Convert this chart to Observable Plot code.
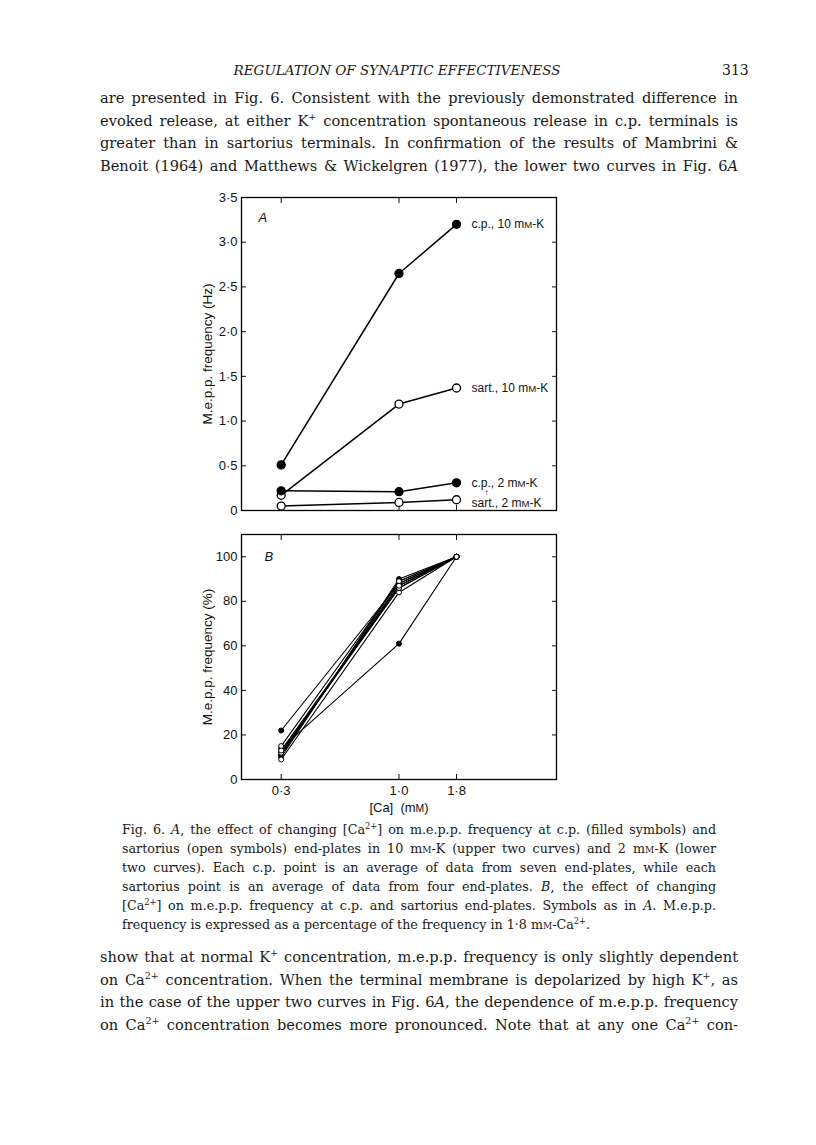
<!DOCTYPE html>
<html>
<head>
<meta charset="utf-8">
<script src="https://cdn.jsdelivr.net/npm/d3@7"></script>
<script src="https://cdn.jsdelivr.net/npm/@observablehq/plot@0.6"></script>
<style>
  html, body { margin: 0; padding: 0; background: #fff; }
  #page { position: relative; width: 816px; height: 1145px; background: #fff; color: #1a1a1a; font-family: "DejaVu Serif", serif; }
  .line { white-space: nowrap; text-align: justify; text-align-last: justify; }
  .para { position: absolute; left: 100px; width: 638px; font-size: 14.6px; line-height: 22.7px; }
  .cap { position: absolute; left: 122px; width: 594px; font-size: 12.7px; line-height: 19px; }
  .sc { font-variant: small-caps; }
  sup { font-size: 0.65em; line-height: 0; }
  .hdr { position: absolute; top: 62px; left: 0; width: 794px; text-align: center; font-style: italic; font-size: 13.5px; }
  .pg { position: absolute; top: 62px; left: 722px; font-size: 14px; }
  .chart { position: absolute; left: 180px; }
  .chart svg { overflow: visible; }
</style>
</head>
<body>
<div id="page">
  <div class="hdr">REGULATION OF SYNAPTIC EFFECTIVENESS</div>
  <div class="pg">313</div>
  <div class="para" style="top:87px">
    <div class="line">are presented in Fig. 6. Consistent with the previously demonstrated difference in</div>
    <div class="line">evoked release, at either K<sup>+</sup> concentration spontaneous release in c.p. terminals is</div>
    <div class="line">greater than in sartorius terminals. In confirmation of the results of Mambrini &amp;</div>
    <div class="line">Benoit (1964) and Matthews &amp; Wickelgren (1977), the lower two curves in Fig. 6<i>A</i></div>
  </div>
  <div id="chartA" class="chart" style="top:185px"></div>
  <div id="chartB" class="chart" style="top:520px"></div>
  <div class="cap" style="top:820px">
    <div class="line">Fig. 6. <i>A</i>, the effect of changing [Ca<sup>2+</sup>] on m.e.p.p. frequency at c.p. (filled symbols) and</div>
    <div class="line">sartorius (open symbols) end-plates in 10 m<span class="sc">m</span>-K (upper two curves) and 2 m<span class="sc">m</span>-K (lower</div>
    <div class="line">two curves). Each c.p. point is an average of data from seven end-plates, while each</div>
    <div class="line">sartorius point is an average of data from four end-plates. <i>B</i>, the effect of changing</div>
    <div class="line">[Ca<sup>2+</sup>] on m.e.p.p. frequency at c.p. and sartorius end-plates. Symbols as in <i>A</i>. M.e.p.p.</div>
    <div class="line" style="text-align-last:left">frequency is expressed as a percentage of the frequency in 1·8 m<span class="sc">m</span>-Ca<sup>2+</sup>.</div>
  </div>
  <div class="para" style="top:946px">
    <div class="line">show that at normal K<sup>+</sup> concentration, m.e.p.p. frequency is only slightly dependent</div>
    <div class="line">on Ca<sup>2+</sup> concentration. When the terminal membrane is depolarized by high K<sup>+</sup>, as</div>
    <div class="line">in the case of the upper two curves in Fig. 6<i>A</i>, the dependence of m.e.p.p. frequency</div>
    <div class="line">on Ca<sup>2+</sup> concentration becomes more pronounced. Note that at any one Ca<sup>2+</sup> con-</div>
  </div>
</div>
<script>
// ---------- data ----------
const caLevels = [0.3, 1.0, 1.8];          // [Ca] (mM)
const xTickLabels = ["0·3", "1·0", "1·8"];

// Panel A: m.e.p.p. frequency (Hz)
const cp10 = [0.51, 2.65, 3.20];
const sart10 = [0.17, 1.19, 1.37];
const cp2 = [0.22, 0.21, 0.31];
const sart2 = [0.05, 0.09, 0.12];
const seriesNamesA = ["c.p., 10 mM-K", "sart., 10 mM-K", "c.p., 2 mM-K", "sart., 2 mM-K"];
const seriesFilledA = [true, false, true, false];
const yTicksA = [0, 0.5, 1.0, 1.5, 2.0, 2.5, 3.0, 3.5];

// Panel B: m.e.p.p. frequency (% of 1.8 mM-Ca)
const cpB1 = [22, 88, 100];
const cpB2 = [14, 61, 100];
const cpB3 = [10, 90, 100];
const cpB4 = [11, 89, 100];
const cpB5 = [12, 87, 100];
const cpB6 = [13, 86, 100];
const cpB7 = [11, 88, 100];
const sartB1 = [9, 84, 100];
const sartB2 = [12, 86, 100];
const sartB3 = [15, 89, 100];
const sartB4 = [13, 87, 100];
const yTicksB = [0, 20, 40, 60, 80, 100];

// ---------- build tables ----------
const valuesA = [cp10, sart10, cp2, sart2];
const rowsA = valuesA.flatMap((vals, i) => vals.map((v, j) => ({series: seriesNamesA[i], ca: caLevels[j], v, filled: seriesFilledA[i]})));
const labelsA = valuesA.map((vals, i) => ({label: seriesNamesA[i], ca: caLevels[2], v: vals[2], low: i === 3}));

const cpB = [cpB1, cpB2, cpB3, cpB4, cpB5, cpB6, cpB7];
const sartB = [sartB1, sartB2, sartB3, sartB4];
const rowsB = [
  ...cpB.flatMap((vals, i) => vals.map((v, j) => ({series: "cp" + i, ca: caLevels[j], v, filled: true}))),
  ...sartB.flatMap((vals, i) => vals.map((v, j) => ({series: "sart" + i, ca: caLevels[j], v, filled: false})))
];

const font = "Liberation Sans, Arial, Helvetica, sans-serif";
const fmtA = d => d === 0 ? "0" : d.toFixed(1).replace(".", "·");
const fmtX = d => xTickLabels[caLevels.indexOf(d)];
const blank = () => "";

function frameAxes(xt, yt) {
  return [
    Plot.axisY(yt, {anchor: "right", tickSize: -5, tickFormat: blank, label: null}),
    Plot.axisY(yt, {anchor: "left", tickSize: -5, tickFormat: blank, label: null}),
    Plot.axisX(xt, {anchor: "top", tickSize: -5, tickFormat: blank, label: null}),
    Plot.axisX(xt, {anchor: "bottom", tickSize: -5, tickFormat: blank, label: null}),
    Plot.frame({stroke: "black", strokeWidth: 1.3})
  ];
}

function smallCaps(svg) {
  svg.querySelectorAll("text").forEach(t => {
    if (t.children.length === 0 && t.textContent.includes("mM")) {
      t.innerHTML = t.textContent.replace("mM", 'm<tspan font-size="0.8em">M</tspan>');
    }
  });
  return svg;
}

const chartA = Plot.plot({
  width: 420, height: 340,
  marginLeft: 61, marginRight: 44, marginTop: 12, marginBottom: 15,
  style: {fontFamily: font, fontSize: "13px", color: "#111", background: "transparent", overflow: "visible"},
  x: {type: "log", domain: [0.2, 5]},
  y: {domain: [0, 3.5]},
  marks: [
    ...frameAxes(caLevels, yTicksA),
    Plot.axisY(yTicksA, {anchor: "left", tickSize: 0, tickPadding: 4, tickFormat: fmtA, label: null, fontSize: 13}),
    Plot.text(["M.e.p.p. frequency (Hz)"], {frameAnchor: "left", textAnchor: "middle", lineAnchor: "middle", dx: -34, rotate: -90, fontSize: 13.5, fill: "#111"}),
    Plot.text(["A"], {frameAnchor: "top-left", textAnchor: "start", lineAnchor: "middle", dx: 17, dy: 20, fontStyle: "italic", fontSize: 13, fill: "#111"}),
    Plot.line(rowsA, {x: "ca", y: "v", z: "series", stroke: "black", strokeWidth: 1.5}),
    Plot.dot(rowsA, {x: "ca", y: "v", r: 4, fill: d => d.filled ? "black" : "white", stroke: "black", strokeWidth: 1.3}),
    Plot.text(labelsA.filter(d => !d.low), {x: "ca", y: "v", text: "label", dx: 15, textAnchor: "start", lineAnchor: "middle", fontSize: 12, fill: "#111"}),
    Plot.text(labelsA.filter(d => d.low), {x: "ca", y: "v", text: "label", dx: 15, dy: 3, textAnchor: "start", lineAnchor: "middle", fontSize: 12, fill: "#111"}),
    Plot.text(labelsA.filter(d => d.low), {x: "ca", y: "v", text: () => "↑", dx: 30, dy: -7, textAnchor: "middle", lineAnchor: "middle", fontSize: 8, fontWeight: "bold", fill: "#111"})
  ]
});
document.getElementById("chartA").appendChild(smallCaps(chartA));

const chartB = Plot.plot({
  width: 420, height: 300,
  marginLeft: 61, marginRight: 44, marginTop: 14, marginBottom: 41,
  style: {fontFamily: font, fontSize: "13px", color: "#111", background: "transparent", overflow: "visible"},
  x: {type: "log", domain: [0.2, 5]},
  y: {domain: [0, 110]},
  marks: [
    ...frameAxes(caLevels, yTicksB),
    Plot.axisY(yTicksB, {anchor: "left", tickSize: 0, tickPadding: 4, label: null, fontSize: 13}),
    Plot.axisX(caLevels, {anchor: "bottom", tickSize: 0, tickPadding: 6, tickFormat: fmtX, label: null, fontSize: 13}),
    Plot.text(["[Ca]  (mM)"], {frameAnchor: "bottom", textAnchor: "middle", lineAnchor: "middle", dy: 28, fontSize: 13, fill: "#111"}),
    Plot.text(["M.e.p.p. frequency (%)"], {frameAnchor: "left", textAnchor: "middle", lineAnchor: "middle", dx: -34, rotate: -90, fontSize: 13.5, fill: "#111"}),
    Plot.text(["B"], {frameAnchor: "top-left", textAnchor: "start", lineAnchor: "middle", dx: 23, dy: 22, fontStyle: "italic", fontSize: 13, fill: "#111"}),
    Plot.line(rowsB, {x: "ca", y: "v", z: "series", stroke: "black", strokeWidth: 1.1}),
    Plot.dot(rowsB, {x: "ca", y: "v", r: 2.5, fill: d => d.filled ? "black" : "white", stroke: "black", strokeWidth: 1})
  ]
});
document.getElementById("chartB").appendChild(smallCaps(chartB));
</script>
</body>
</html>
